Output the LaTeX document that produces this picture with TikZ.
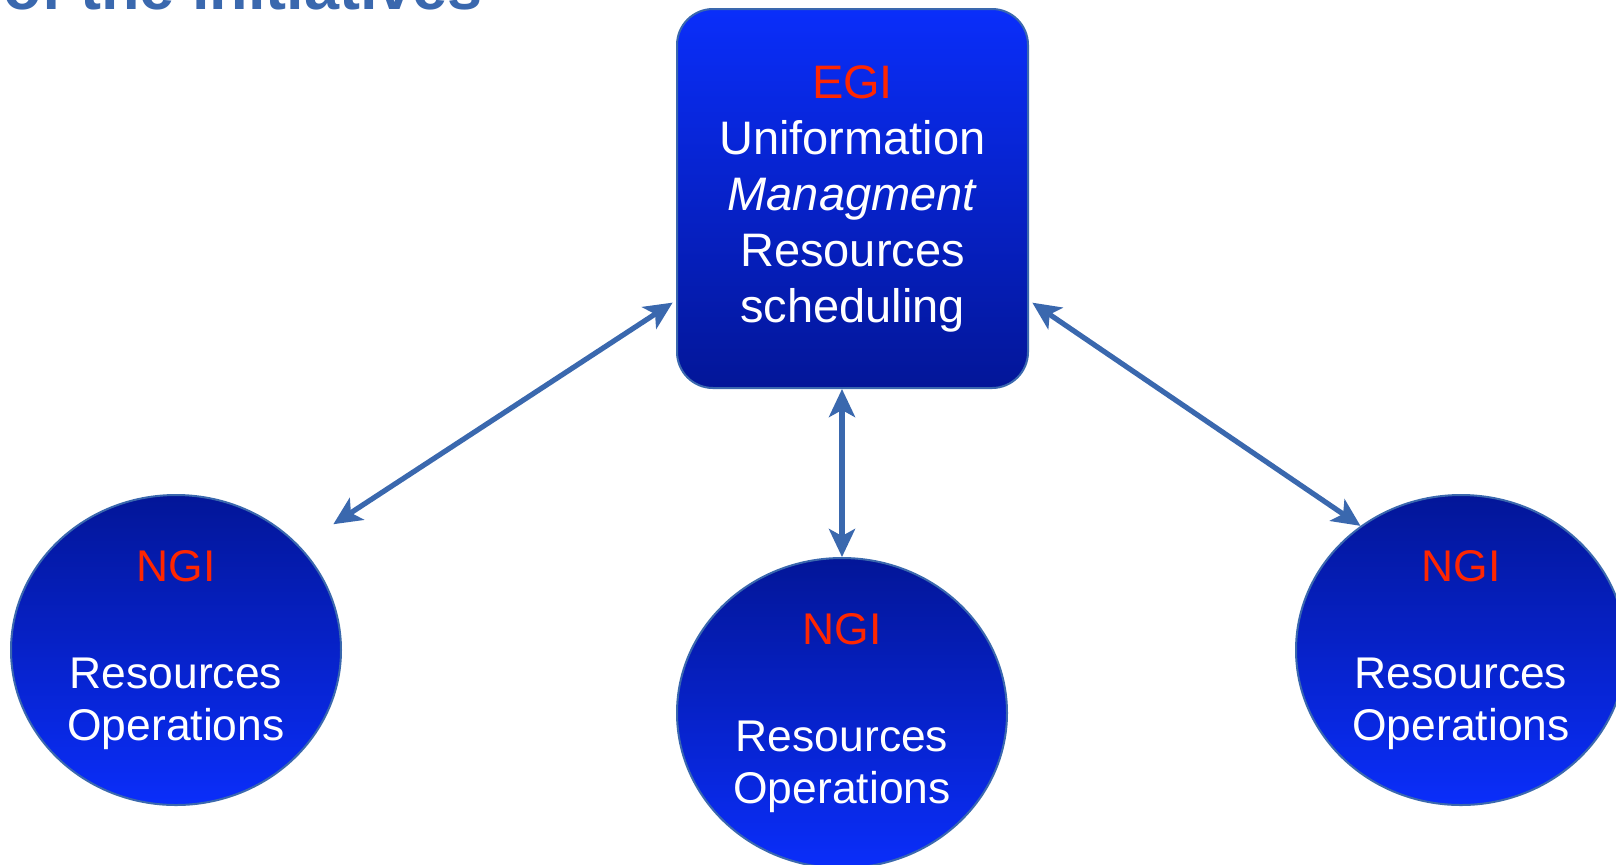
\documentclass[tikz,border=0pt]{standalone}
\usepackage{fontspec}
\setmainfont{Liberation Sans}
\usepackage{xcolor}
\usepackage{tikz}
\usetikzlibrary{positioning,arrows.meta,shapes.geometric}

\definecolor{egiBright}{RGB}{10,46,250}
\definecolor{egiDark}{RGB}{3,22,152}
\definecolor{rimBlue}{RGB}{58,104,174}
\definecolor{ngiRed}{RGB}{255,38,0}

\begin{document}
\begin{tikzpicture}[x=0.5pt, y=-0.5pt,
    egibox/.style={draw=rimBlue, line width=1pt, rounded corners=18pt, top color=egiBright, bottom color=egiDark,
        minimum width=175.5pt, minimum height=189.5pt, inner sep=0pt, align=center, text=white,
        font=\fontsize{23.5pt}{28pt}\selectfont},
    ngibox/.style={ellipse, draw=rimBlue, line width=1pt, top color=egiDark, bottom color=egiBright,
        minimum width=165pt, minimum height=155pt, inner sep=0pt, align=center, text=white,
        font=\fontsize{22.2pt}{26pt}\selectfont},
    link/.style={rimBlue, line width=2.6pt,
        {Stealth[length=14pt,width=13pt,inset=3.5pt]}-{Stealth[length=14pt,width=13pt,inset=3.5pt]}}]
\useasboundingbox (0,0) rectangle (1616,864);

\node[font=\fontsize{31.5pt}{36pt}\selectfont\bfseries, text=rimBlue, anchor=base west, inner sep=0pt] (heading) at (3,9) {of the initiatives};

\node[egibox] (egi) at (852.5,198.5) {\textcolor{ngiRed}{EGI}\\Uniformation\\\textit{Managment}\\Resources\\scheduling};

\node[ngibox] (ngi_left) at (176,650) {\textcolor{ngiRed}{NGI}\\[27.5pt]Resources\\Operations};
\node[ngibox] (ngi_mid) at (842,713) {\textcolor{ngiRed}{NGI}\\[27.5pt]Resources\\Operations};
\node[ngibox] (ngi_right) at (1461,650) {\textcolor{ngiRed}{NGI}\\[27.5pt]Resources\\Operations};

\draw[link, shorten <=20pt, shorten >=2pt] (ngi_left.40) -- (egi.210);
\draw[link] (ngi_mid.north) -- (ngi_mid.north |- egi.south);
\draw[link, shorten >=2pt] (ngi_right.129) -- (egi.-30);

\end{tikzpicture}
\end{document}
